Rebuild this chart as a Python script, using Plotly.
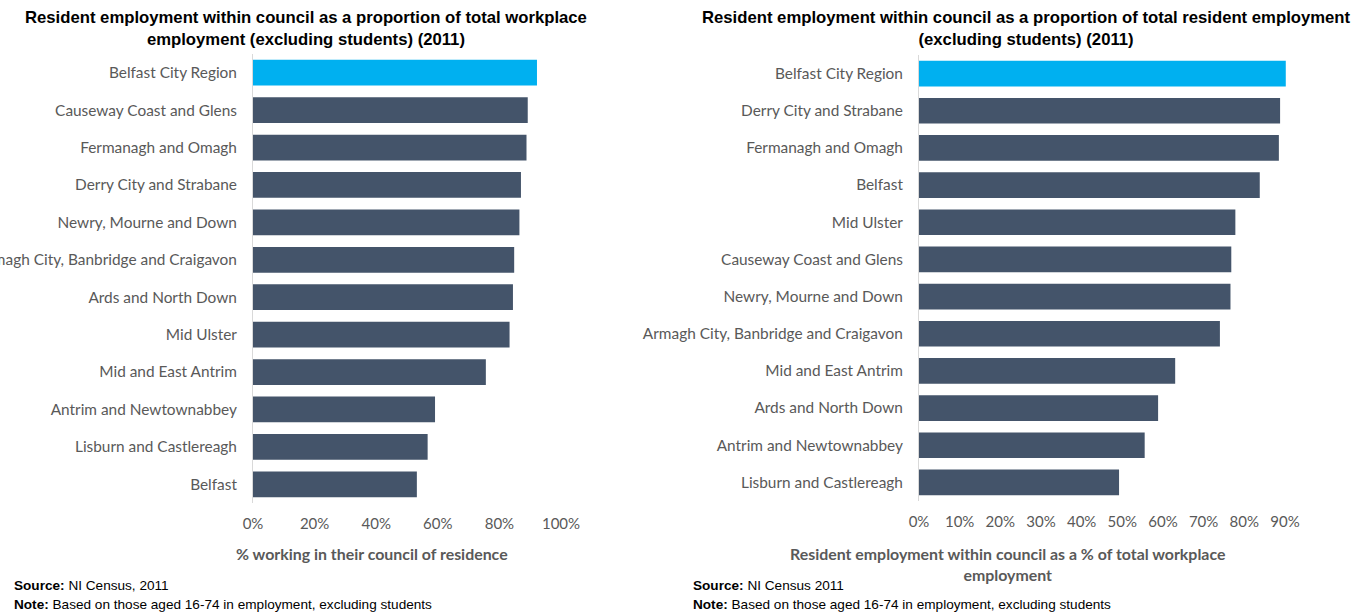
import plotly.graph_objects as go

W, H = 1365, 613

# Left panel: share of workplace employment filled by council residents
left_councils = [
    "Belfast City Region", "Causeway Coast and Glens", "Fermanagh and Omagh",
    "Derry City and Strabane", "Newry, Mourne and Down",
    "Armagh City, Banbridge and Craigavon", "Ards and North Down", "Mid Ulster",
    "Mid and East Antrim", "Antrim and Newtownabbey", "Lisburn and Castlereagh",
    "Belfast",
]
left_values = [0.922, 0.892, 0.888, 0.870, 0.865, 0.848, 0.844, 0.833,
               0.756, 0.591, 0.567, 0.532]

# Right panel: share of resident employment working within own council
right_councils = [
    "Belfast City Region", "Derry City and Strabane", "Fermanagh and Omagh",
    "Belfast", "Mid Ulster", "Causeway Coast and Glens", "Newry, Mourne and Down",
    "Armagh City, Banbridge and Craigavon", "Mid and East Antrim",
    "Ards and North Down", "Antrim and Newtownabbey", "Lisburn and Castlereagh",
]
right_values = [0.902, 0.888, 0.885, 0.838, 0.778, 0.768, 0.766, 0.740,
                0.630, 0.588, 0.555, 0.492]

left_ticks = [0, 0.2, 0.4, 0.6, 0.8, 1.0]
right_ticks = [0, 0.1, 0.2, 0.3, 0.4, 0.5, 0.6, 0.7, 0.8, 0.9]

HIGHLIGHT = "#00b0f0"
BASE = "#44546a"
GREY = "#595959"
LABEL_FONT = "Lato"


def colours(names):
    return [HIGHLIGHT if n == "Belfast City Region" else BASE for n in names]


def px_x(p):
    return p / W


def px_y(p):
    return 1 - p / H


fig = go.Figure()
fig.add_trace(go.Bar(
    x=left_values, y=left_councils, orientation="h",
    marker=dict(color=colours(left_councils), line=dict(width=0)),
    width=0.69, xaxis="x", yaxis="y", showlegend=False,
    hovertemplate="%{y}: %{x:.1%}<extra></extra>",
))
fig.add_trace(go.Bar(
    x=right_values, y=right_councils, orientation="h",
    marker=dict(color=colours(right_councils), line=dict(width=0)),
    width=0.69, xaxis="x2", yaxis="y2", showlegend=False,
    hovertemplate="%{y}: %{x:.1%}<extra></extra>",
))

x_tick_font = dict(family=LABEL_FONT, size=15, color=GREY)
y_tick_font = dict(family=LABEL_FONT, size=15.4, color=GREY)
common_x = dict(showgrid=False, zeroline=False, showline=False, ticks="",
                tickformat=".0%", tickfont=x_tick_font, ticklabelstandoff=10,
                automargin=False, fixedrange=True)
common_y = dict(showgrid=False, zeroline=False, showline=True,
                linecolor="#d9d9d9", linewidth=1, ticks="",
                tickfont=y_tick_font, ticklabelstandoff=12,
                automargin=False, autorange="reversed", fixedrange=True)

fig.update_layout(
    width=W, height=H,
    margin=dict(l=0, r=0, t=0, b=0, autoexpand=False),
    paper_bgcolor="white", plot_bgcolor="white",
    bargap=0.31,
    xaxis=dict(domain=[px_x(253), px_x(561)], range=[0, 1.0],
               tickvals=left_ticks, anchor="y", **common_x),
    yaxis=dict(domain=[px_y(503), px_y(54)], anchor="x",
               categoryorder="array", categoryarray=left_councils, **common_y),
    xaxis2=dict(domain=[px_x(919), px_x(1287)], range=[0, 0.905],
                tickvals=right_ticks, anchor="y2", **common_x),
    yaxis2=dict(domain=[px_y(501), px_y(55)], anchor="x2",
                categoryorder="array", categoryarray=right_councils, **common_y),
)

title_font = dict(family="Liberation Sans", size=16.7, color="black")
axis_title_font = dict(family=LABEL_FONT, size=15.9, color=GREY)
note_font = dict(family="Liberation Sans", size=13.6, color="black")

annotations = [
    dict(x=px_x(306), y=px_y(28), xanchor="center", yanchor="middle",
         text="<b>Resident employment within council as a proportion of total workplace"
              "<br>employment (excluding students) (2011)</b>",
         font=title_font, align="center"),
    dict(x=px_x(1026), y=px_y(29), xanchor="center", yanchor="middle",
         text="<b>Resident employment within council as a proportion of total resident employment"
              "<br>(excluding students) (2011)</b>",
         font=title_font, align="center"),
    dict(x=px_x(372), y=px_y(553), xanchor="center", yanchor="middle",
         text="<b>% working in their council of residence</b>",
         font=axis_title_font),
    dict(x=px_x(1007), y=px_y(564), xanchor="center", yanchor="middle",
         text="<b>Resident employment within council as a % of total workplace"
              "<br>employment</b>",
         font=axis_title_font, align="center"),
    dict(x=px_x(12), y=px_y(585), xanchor="left", yanchor="middle",
         text="<b>Source:</b> NI Census, 2011", font=note_font),
    dict(x=px_x(12), y=px_y(604), xanchor="left", yanchor="middle",
         text="<b>Note:</b> Based on those aged 16-74 in employment, excluding students",
         font=note_font),
    dict(x=px_x(691), y=px_y(585), xanchor="left", yanchor="middle",
         text="<b>Source:</b> NI Census 2011", font=note_font),
    dict(x=px_x(691), y=px_y(604), xanchor="left", yanchor="middle",
         text="<b>Note:</b> Based on those aged 16-74 in employment, excluding students",
         font=note_font),
]
for a in annotations:
    a.update(xref="paper", yref="paper", showarrow=False)
fig.update_layout(annotations=annotations)

fig.write_html("out.html")
